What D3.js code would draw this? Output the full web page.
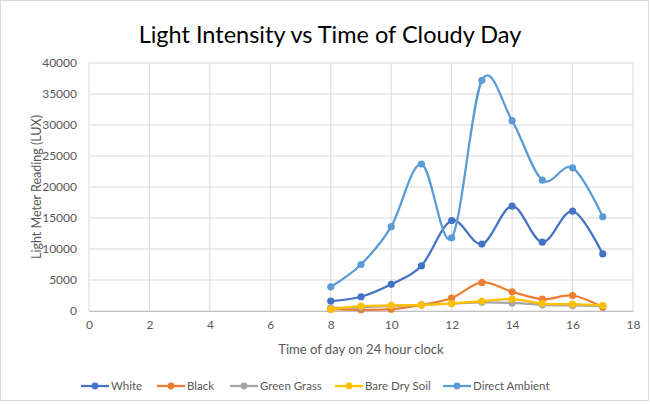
<!DOCTYPE html>
<html>
<head>
<meta charset="utf-8">
<script src="https://cdn.jsdelivr.net/npm/d3@7"></script>
<style>
  body { margin: 0; background: #fff; }
  svg text { font-family: Lato, "Open Sans", sans-serif; fill: #595959; }
</style>
</head>
<body>
<svg id="chart" width="650" height="404"></svg>
<script>
// hours of the day
const hours = [8, 9, 10, 11, 12, 13, 14, 15, 16, 17];

// light meter readings (LUX)
const white = [1600, 2300, 4300, 7300, 14600, 10800, 16900, 11100, 16100, 9200];
const black = [300, 200, 300, 1000, 2100, 4600, 3100, 1900, 2500, 600];
const greenGrass = [500, 600, 800, 1000, 1200, 1400, 1300, 1000, 900, 800];
const bareDrySoil = [300, 800, 900, 1000, 1200, 1600, 1900, 1200, 1100, 900];
const directAmbient = [3900, 7500, 13600, 23700, 11800, 37200, 30700, 21100, 23100, 15200];

const xTicks = [0, 2, 4, 6, 8, 10, 12, 14, 16, 18];
const yTicks = [0, 5000, 10000, 15000, 20000, 25000, 30000, 35000, 40000];

const series = [
  { name: "White", values: white, color: "#4472C4" },
  { name: "Black", values: black, color: "#ED7D31" },
  { name: "Green Grass", values: greenGrass, color: "#A5A5A5" },
  { name: "Bare Dry Soil", values: bareDrySoil, color: "#FFC000" },
  { name: "Direct Ambient", values: directAmbient, color: "#5B9BD5" }
];

const svg = d3.select("#chart");

// chart frame
svg.append("rect")
  .attr("x", 0.5).attr("y", 0.5)
  .attr("width", 648).attr("height", 400)
  .attr("fill", "#fff")
  .attr("stroke", "#d9d9d9");

const margin = { top: 63, right: 17, bottom: 93, left: 89 };
const width = 650 - margin.left - margin.right;
const height = 404 - margin.top - margin.bottom;

const x = d3.scaleLinear().domain([0, 18]).range([0, width]);
const y = d3.scaleLinear().domain([0, 40000]).range([height, 0]);

const g = svg.append("g")
  .attr("transform", "translate(" + margin.left + "," + margin.top + ")");

// gridlines
g.append("g")
  .selectAll("line")
  .data(yTicks)
  .enter()
  .append("line")
  .attr("x1", 0).attr("x2", width)
  .attr("y1", d => y(d)).attr("y2", d => y(d))
  .attr("stroke", "#d9d9d9");

g.append("g")
  .selectAll("line")
  .data(xTicks)
  .enter()
  .append("line")
  .attr("x1", d => x(d)).attr("x2", d => x(d))
  .attr("y1", 0).attr("y2", height)
  .attr("stroke", "#d9d9d9");

// axes
const xAxis = g.append("g")
  .attr("transform", "translate(0," + height + ")")
  .call(d3.axisBottom(x).tickValues(xTicks).tickSize(0).tickPadding(9));
xAxis.select(".domain").attr("stroke", "#bfbfbf");
xAxis.selectAll("text").style("font-size", "12px").attr("fill", "#595959");

const yAxis = g.append("g")
  .call(d3.axisLeft(y).tickValues(yTicks).tickSize(0).tickPadding(12).tickFormat(d3.format("d")));
yAxis.select(".domain").remove();
yAxis.selectAll("text").style("font-size", "12px").attr("fill", "#595959");

// smoothed lines
const line = d3.line()
  .x((d, i) => x(hours[i]))
  .y(d => y(d))
  .curve(d3.curveCatmullRom.alpha(0));

series.forEach(s => {
  g.append("path")
    .datum(s.values)
    .attr("fill", "none")
    .attr("stroke", s.color)
    .attr("stroke-width", 2.25)
    .attr("stroke-linecap", "round")
    .attr("d", line);

  g.append("g")
    .selectAll("circle")
    .data(s.values)
    .enter()
    .append("circle")
    .attr("cx", (d, i) => x(hours[i]))
    .attr("cy", d => y(d))
    .attr("r", 3.6)
    .attr("fill", s.color);
});

// title
svg.append("text")
  .attr("x", 330)
  .attr("y", 43)
  .attr("text-anchor", "middle")
  .style("font-size", "23.5px")
  .style("fill", "#000")
  .text("Light Intensity vs Time of Cloudy Day");

// axis titles
svg.append("text")
  .attr("x", 361)
  .attr("y", 354)
  .attr("text-anchor", "middle")
  .style("font-size", "13px")
  .text("Time of day on 24 hour clock");

svg.append("text")
  .attr("transform", "translate(41,187) rotate(-90)")
  .attr("text-anchor", "middle")
  .style("font-size", "12.5px")
  .text("Light Meter  Reading (LUX)");

// legend
const legendX = [81, 157, 230, 335, 443];
const legend = svg.append("g");
series.forEach((s, i) => {
  const lg = legend.append("g").attr("transform", "translate(" + legendX[i] + ",386)");
  lg.append("line")
    .attr("x1", 0).attr("x2", 28)
    .attr("y1", 0).attr("y2", 0)
    .attr("stroke", s.color)
    .attr("stroke-width", 2.25);
  lg.append("circle")
    .attr("cx", 14).attr("cy", 0).attr("r", 3.4)
    .attr("fill", s.color);
  lg.append("text")
    .attr("x", 30).attr("y", 4)
    .style("font-size", "11.5px")
    .text(s.name);
});
</script>
</body>
</html>
